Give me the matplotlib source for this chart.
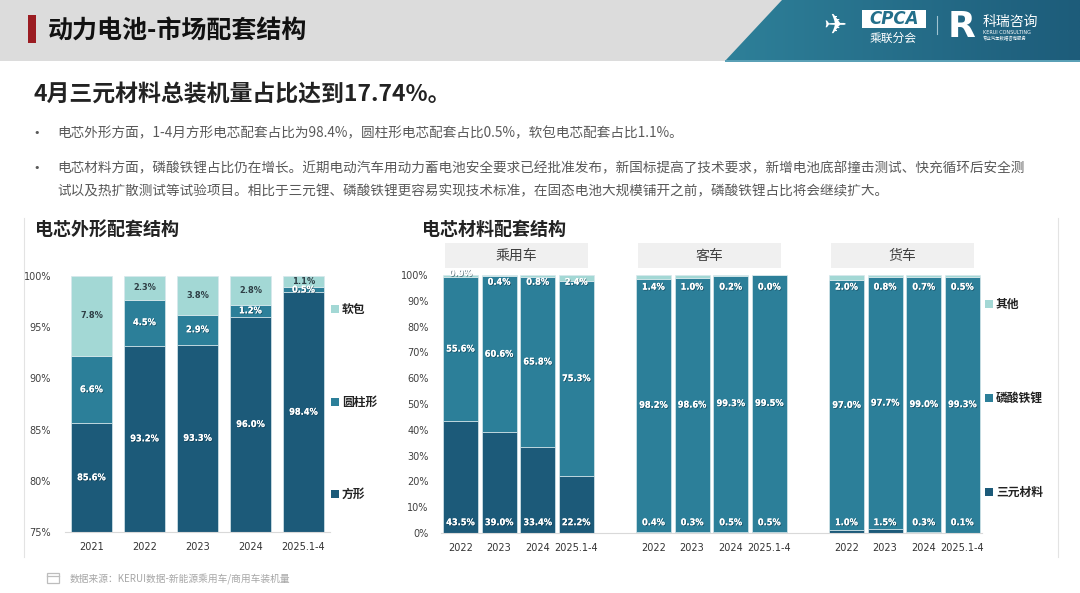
import matplotlib
matplotlib.use("Agg")
import matplotlib.pyplot as plt
import numpy as np
from matplotlib.patches import Rectangle, Polygon
from matplotlib.colors import LinearSegmentedColormap
import matplotlib.patheffects as pe

plt.rcParams['font.family'] = ['Noto Sans CJK SC', 'DejaVu Sans']

# ---------------- data ----------------
shape_years = ["2021", "2022", "2023", "2024", "2025.1-4"]
shape_square = [85.6, 93.2, 93.3, 96.0, 98.4]     # 方形
shape_cyl = [6.6, 4.5, 2.9, 1.2, 0.5]             # 圆柱形
shape_pouch = [7.8, 2.3, 3.8, 2.8, 1.1]           # 软包
shape_names = ["方形", "圆柱形", "软包"]

mat_years = ["2022", "2023", "2024", "2025.1-4"]
mat_groups = ["乘用车", "客车", "货车"]
mat_ncm = [[43.5, 39.0, 33.4, 22.2], [0.4, 0.3, 0.5, 0.5], [1.0, 1.5, 0.3, 0.1]]
mat_lfp = [[55.6, 60.6, 65.8, 75.3], [98.2, 98.6, 99.3, 99.5], [97.0, 97.7, 99.0, 99.3]]
mat_other = [[0.9, 0.4, 0.8, 2.4], [1.4, 1.0, 0.2, 0.0], [2.0, 0.8, 0.7, 0.5]]
mat_names = ["三元材料", "磷酸铁锂", "其他"]

title = "动力电池-市场配套结构"
subtitle = "4月三元材料总装机量占比达到17.74%。"
bullet1 = "电芯外形方面，1-4月方形电芯配套占比为98.4%，圆柱形电芯配套占比0.5%，软包电芯配套占比1.1%。"
bullet2a = "电芯材料方面，磷酸铁锂占比仍在增长。近期电动汽车用动力蓄电池安全要求已经批准发布，新国标提高了技术要求，新增电池底部撞击测试、快充循环后安全测"
bullet2b = "试以及热扩散测试等试验项目。相比于三元锂、磷酸铁锂更容易实现技术标准，在固态电池大规模铺开之前，磷酸铁锂占比将会继续扩大。"
sec1 = "电芯外形配套结构"
sec2 = "电芯材料配套结构"
source = "数据来源：KERUI数据-新能源乘用车/商用车装机量"

C_DARK = "#1c5a79"
C_MID = "#2c7f99"
C_LIGHT = "#a3d8d5"
colors = [C_DARK, C_MID, C_LIGHT]

W, H = 1080, 593
fig = plt.figure(figsize=(W / 100, H / 100), dpi=100)

def rect(x0, y0, x1, y1):
    return [x0 / W, 1 - y1 / H, (x1 - x0) / W, (y1 - y0) / H]

# background / decoration axes in pixel coords
bg = fig.add_axes([0, 0, 1, 1])
bg.set_xlim(0, W)
bg.set_ylim(H, 0)
bg.axis("off")

bg.add_patch(Rectangle((0, 0), W, 61, color="#dcdcdc", lw=0))
poly = Polygon([(782, 0), (W, 0), (W, 61), (725, 61)], closed=True, facecolor="none", lw=0)
bg.add_patch(poly)
grad = np.linspace(0, 1, 256).reshape(1, -1)
cm = LinearSegmentedColormap.from_list("hd", ["#2e8099", "#1d5c7a"])
im = bg.imshow(grad, extent=(725, W, 61, 0), cmap=cm, aspect="auto", zorder=1)
im.set_clip_path(poly)
bg.add_patch(Rectangle((725, 60), W - 725, 2, color="#5aa0b6", lw=0, zorder=2))
bg.set_xlim(0, W)
bg.set_ylim(H, 0)

bg.add_patch(Rectangle((28, 15), 8, 28, color="#9b1c22", lw=0))
bg.text(48, 31, title, fontsize=18, fontweight="bold", color="#111111", va="center", ha="left")

# logos (approximate, as text)
bg.text(835, 26, "✈", fontsize=20, color="white", va="center", ha="center", family=["DejaVu Sans"], zorder=3)
bg.add_patch(Rectangle((862, 10), 64, 18, facecolor="white", lw=0, zorder=3))
bg.text(894, 19.5, "CPCA", fontsize=12, color="#236f8a", va="center", ha="center",
        fontstyle="italic", fontweight="bold", family=["DejaVu Sans"], zorder=4)
bg.text(893, 38, "乘联分会", fontsize=8.5, color="white", va="center", ha="center", zorder=3)
bg.plot([937, 937], [16, 34], color="#9fc3d0", lw=0.8, zorder=3)
bg.text(962, 27, "R", fontsize=26, color="white", va="center", ha="center", fontweight="bold",
        family=["DejaVu Sans"], zorder=3)
bg.text(983, 22, "科瑞咨询", fontsize=10, color="white", va="center", ha="left", zorder=3)
bg.text(983, 33, "KERUI CONSULTING", fontsize=3.5, color="white", va="center", ha="left",
        family=["DejaVu Sans"], zorder=3)
bg.text(983, 39, "专业汽车数据咨询服务", fontsize=3.2, color="white", va="center", ha="left", zorder=3)

bg.text(33, 95, subtitle, fontsize=16.5, fontweight="bold", color="#222222", va="center", ha="left")

TXT = "#595959"
BFS = 9.8
bg.text(33, 133, "•", fontsize=8, color=TXT, va="center", ha="left", family=["DejaVu Sans"])
bg.text(57, 133, bullet1, fontsize=BFS, color=TXT, va="center", ha="left")
bg.text(33, 168, "•", fontsize=8, color=TXT, va="center", ha="left", family=["DejaVu Sans"])
bg.text(57, 168, bullet2a, fontsize=BFS, color=TXT, va="center", ha="left")
bg.text(57, 191, bullet2b, fontsize=BFS, color=TXT, va="center", ha="left")

bg.text(35, 229, sec1, fontsize=13, fontweight="bold", color="#222222", va="center", ha="left")
bg.text(422, 229, sec2, fontsize=13, fontweight="bold", color="#222222", va="center", ha="left")

bg.plot([24, 24], [218, 557], color="#e3e3e3", lw=0.8)
bg.plot([1058, 1058], [218, 557], color="#e3e3e3", lw=0.8)

# source footnote
bg.add_patch(Rectangle((47, 573), 12, 10, facecolor="none", edgecolor="#bdbdbd", lw=0.9))
bg.plot([47, 59], [576, 576], color="#bdbdbd", lw=0.9)
bg.text(70, 579, source, fontsize=7, color="#a6a6a6", va="center", ha="left")

LBL_FONT = dict(family=["DejaVu Sans"], fontstretch="condensed", fontweight="bold")
shadow = [pe.withSimplePatchShadow(offset=(0.6, -0.6), shadow_rgbFace="#0b2a3a", alpha=0.6), pe.Normal()]
TICK_FS = 7

# ---------------- left chart ----------------
ax1 = fig.add_axes(rect(65, 276, 330, 532))
x1 = np.arange(len(shape_years))
bw = 0.77
series = [shape_square, shape_cyl, shape_pouch]
bottoms = [np.zeros(len(x1)), np.array(shape_square), np.array(shape_square) + np.array(shape_cyl)]
for k, vals in enumerate(series):
    ax1.bar(x1, vals, bw, bottom=bottoms[k], color=colors[k], edgecolor="#d8e8ec", linewidth=0.5, zorder=2)
    for i, v in enumerate(vals):
        lo = max(bottoms[k][i], 75)
        hi = bottoms[k][i] + v
        yc = (lo + hi) / 2
        col = "#2f3f46" if k == 2 else "white"
        t = ax1.text(x1[i], yc, f"{v:.1f}%", ha="center", va="center", fontsize=6.6, color=col, zorder=3, **LBL_FONT)
        if k != 2:
            t.set_path_effects(shadow)
ax1.set_ylim(75, 100)
ax1.set_xlim(-0.5, len(x1) - 0.5)
ax1.set_yticks(np.arange(75, 101, 5))
ax1.set_yticklabels([f"{v}%" for v in range(75, 101, 5)], fontsize=TICK_FS, color="#404040", family=["DejaVu Sans"])
ax1.set_xticks(x1)
ax1.set_xticklabels(shape_years, fontsize=TICK_FS, color="#333333", family=["DejaVu Sans"])
ax1.tick_params(length=0, pad=10, axis="y")
ax1.tick_params(length=0, pad=7, axis="x")
for s in ["top", "right", "left"]:
    ax1.spines[s].set_visible(False)
ax1.spines["bottom"].set_color("#d9d9d9")
ax1.patch.set_alpha(0)

# left legend
for k, (name, yy) in enumerate(zip(shape_names, [494, 402, 309])):
    bg.add_patch(Rectangle((331, yy - 4), 8, 8, color=colors[k], lw=0))
    bg.text(342, yy, name, fontsize=8.5, color="#222222", va="center", ha="left", fontweight="bold")

# ---------------- right chart ----------------
ax2 = fig.add_axes(rect(441.2, 275, 981.6, 533))
bw2 = 0.91
xt, xl = [], []
for g in range(len(mat_groups)):
    xs = g * 5 + np.arange(len(mat_years))
    ncm = np.array(mat_ncm[g]); lfp = np.array(mat_lfp[g]); oth = np.array(mat_other[g])
    ax2.bar(xs, ncm, bw2, color=C_DARK, edgecolor="#d8e8ec", linewidth=0.5, zorder=2)
    ax2.bar(xs, lfp, bw2, bottom=ncm, color=C_MID, edgecolor="#d8e8ec", linewidth=0.5, zorder=2)
    ax2.bar(xs, oth, bw2, bottom=ncm + lfp, color=C_LIGHT, edgecolor="#d8e8ec", linewidth=0.5, zorder=2)
    for i, x in enumerate(xs):
        ax2.text(x, 4.0, f"{ncm[i]:.1f}%", ha="center", va="center", fontsize=6.6, color="white",
                 zorder=3, **LBL_FONT).set_path_effects(shadow)
        ax2.text(x, ncm[i] + lfp[i] / 2, f"{lfp[i]:.1f}%", ha="center", va="center", fontsize=6.6,
                 color="white", zorder=3, **LBL_FONT).set_path_effects(shadow)
        ytop = 97.2 if g == 0 else 95.3
        if g == 0 and i == 0:
            ytop = 100.6
        ax2.text(x, ytop, f"{oth[i]:.1f}%", ha="center", va="center", fontsize=6.6, color="white",
                 zorder=3, clip_on=False, **LBL_FONT).set_path_effects(shadow)
    xt += list(xs); xl += mat_years
    # header box
    px0 = 441.2 + (xs[0] - 0.4 + 0.5) * 38.6
    px1 = 441.2 + (xs[-1] + 0.3 + 0.5) * 38.6
    bg.add_patch(Rectangle((px0, 243), px1 - px0, 25, color="#f0f0f0", lw=0))
    bg.text((px0 + px1) / 2, 256, mat_groups[g], fontsize=10, color="#404040", ha="center", va="center")
ax2.set_ylim(0, 100)
ax2.set_xlim(-0.5, 13.5)
ax2.set_yticks(np.arange(0, 101, 10))
ax2.set_yticklabels([f"{v}%" for v in range(0, 101, 10)], fontsize=TICK_FS, color="#404040", family=["DejaVu Sans"])
ax2.set_xticks(xt)
ax2.set_xticklabels(xl, fontsize=TICK_FS, color="#333333", family=["DejaVu Sans"])
ax2.tick_params(length=0, pad=9, axis="y")
ax2.tick_params(length=0, pad=7, axis="x")
for s in ["top", "right", "left"]:
    ax2.spines[s].set_visible(False)
ax2.spines["bottom"].set_color("#d9d9d9")
ax2.patch.set_alpha(0)

for k, (name, yy) in enumerate(zip(mat_names, [492, 398, 304])):
    bg.add_patch(Rectangle((985, yy - 4), 8, 8, color=colors[k], lw=0))
    bg.text(996, yy, name, fontsize=8.5, color="#222222", va="center", ha="left", fontweight="bold")

fig.savefig("out.png", dpi=100)
